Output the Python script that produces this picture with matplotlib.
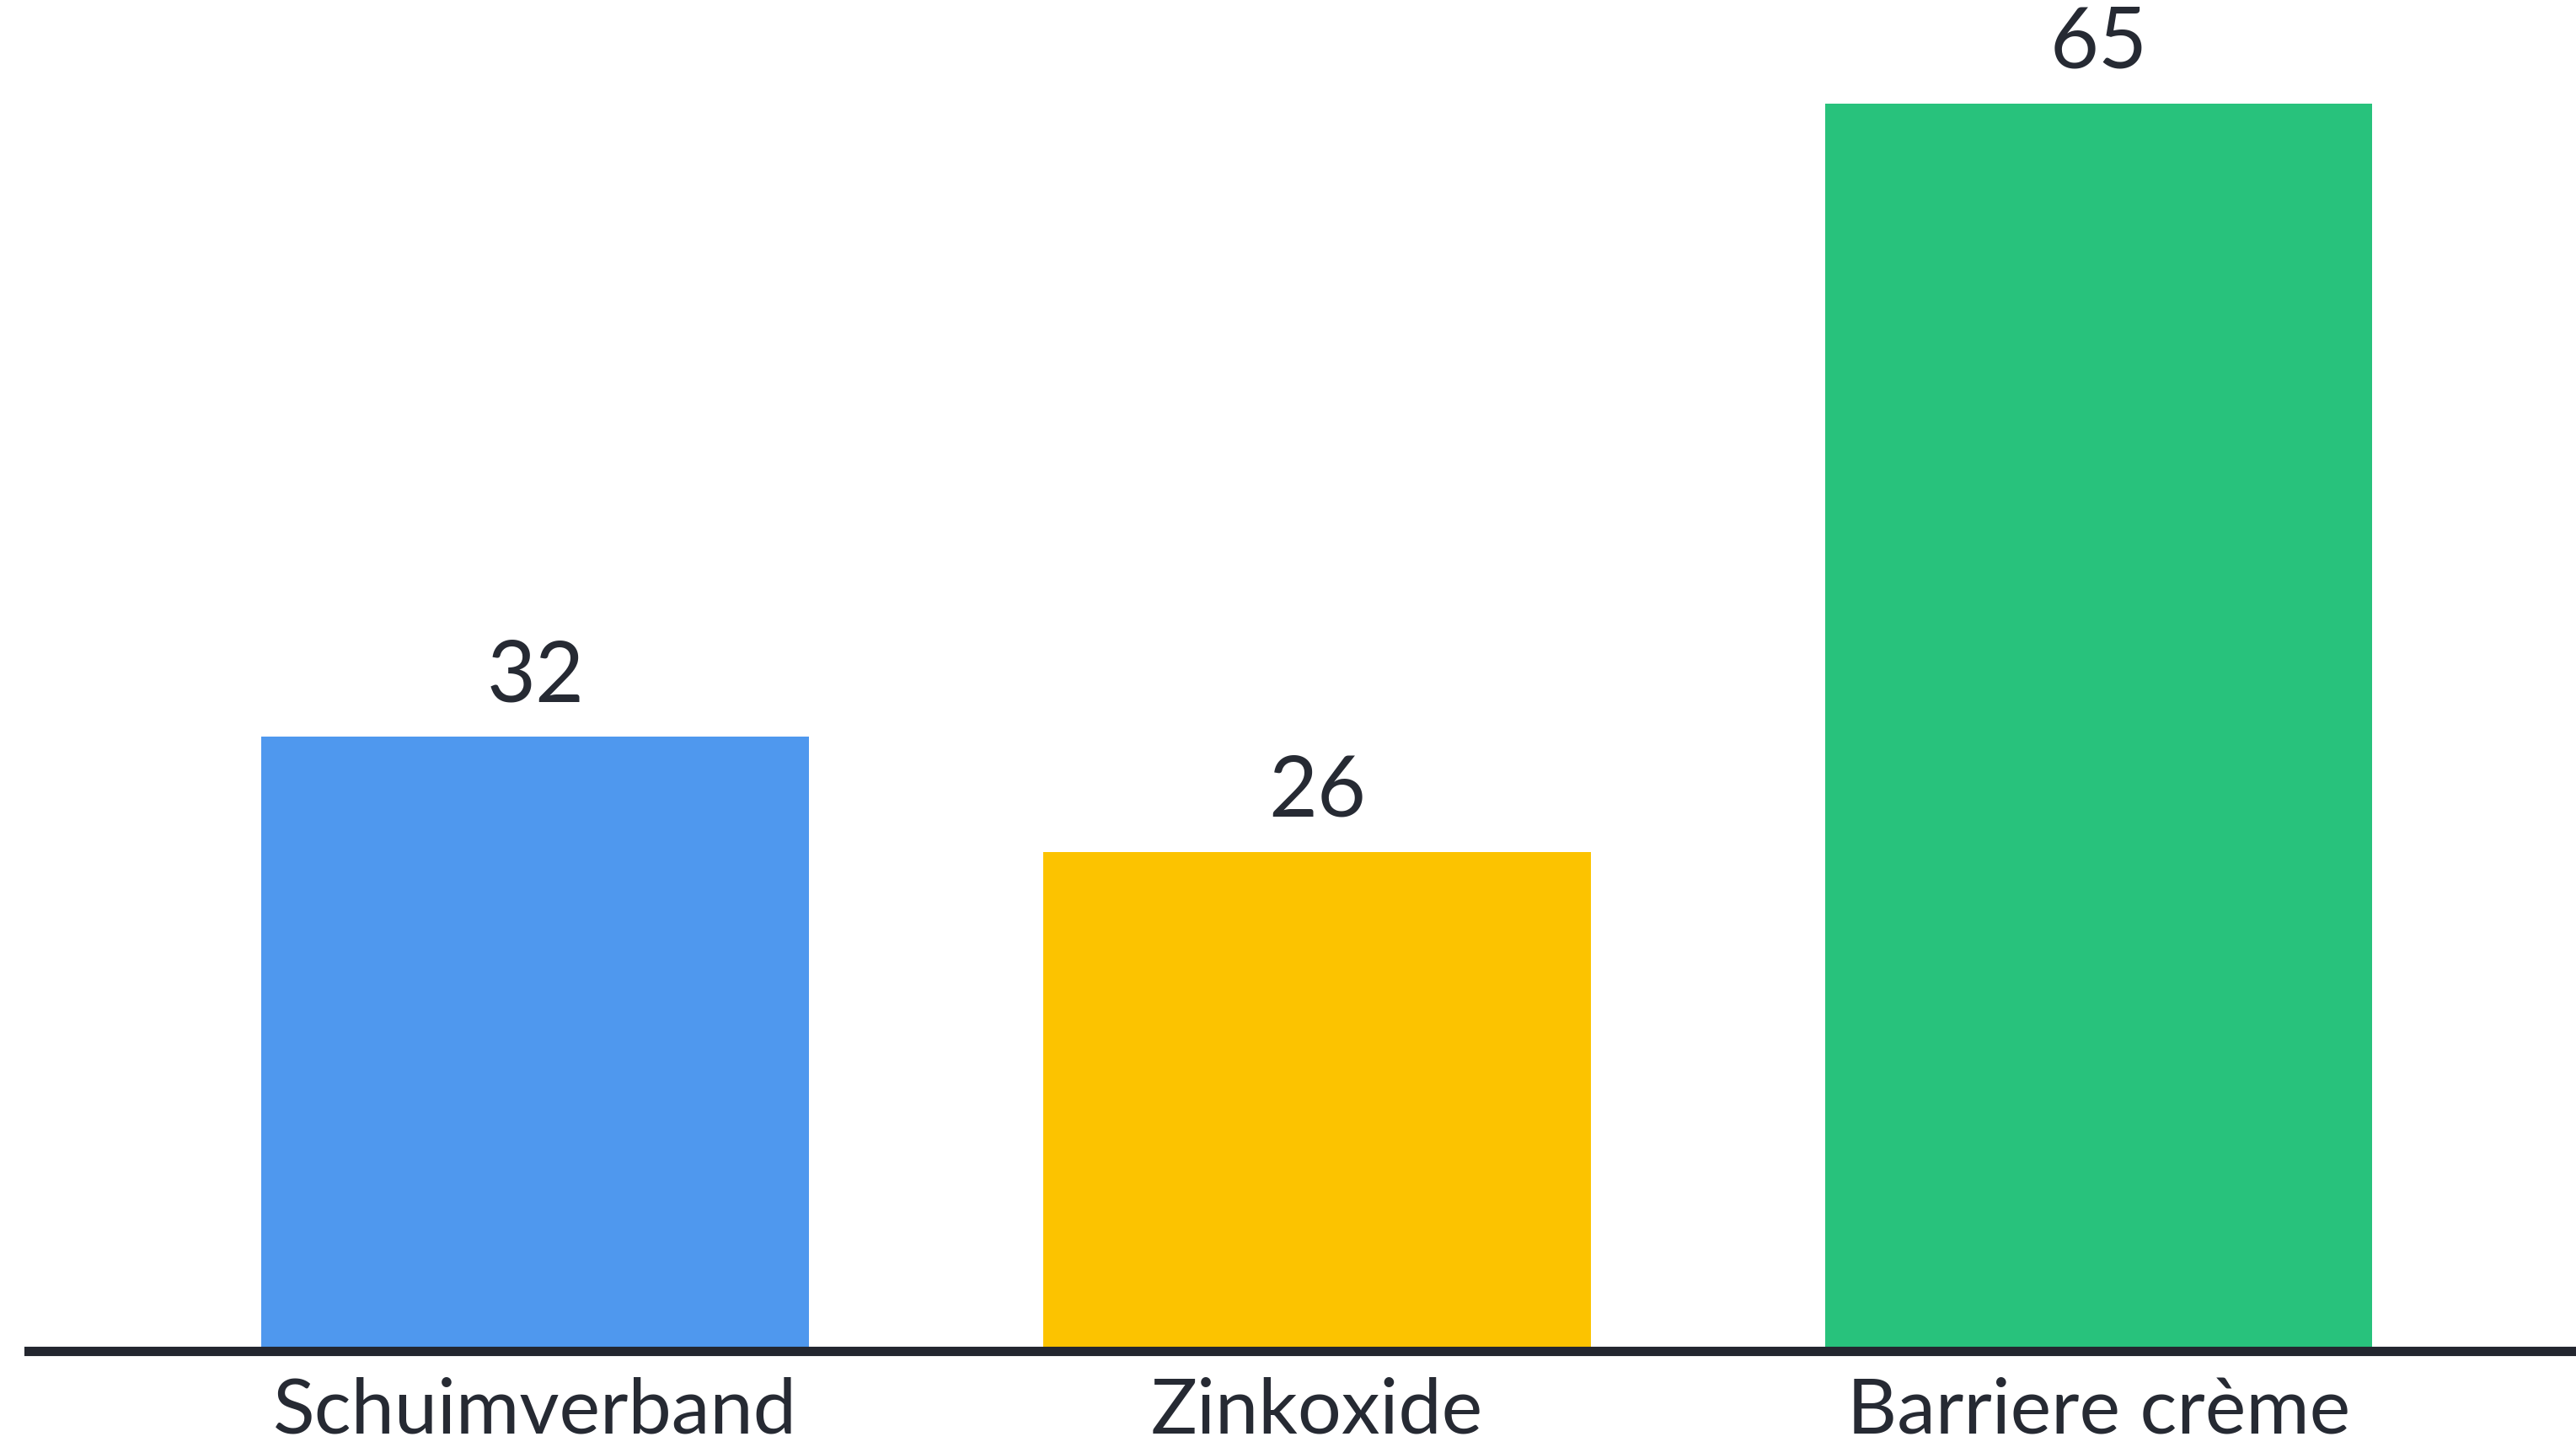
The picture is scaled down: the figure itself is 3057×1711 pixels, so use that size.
import matplotlib
matplotlib.use("Agg")
import matplotlib.pyplot as plt

categories = ["Schuimverband", "Zinkoxide", "Barriere crème"]
values = [32, 26, 65]
colors = ["#4F98EE", "#FCC300", "#28C27C"]

text_color = "#262A33"
plt.rcParams['font.family'] = ['Lato', 'DejaVu Sans']

fig = plt.figure(figsize=(30.57, 17.11), dpi=100)
left = 34 / 3057
ax = fig.add_axes([left, (1711 - 1603) / 1711, 1 - left, 1603 / 1711])

x = list(range(len(categories)))
ax.bar(x, values, width=0.7, color=colors, zorder=2)
ax.set_xlim(-0.648, 2.6105)
ax.set_ylim(0, 70.4)

for xi, v in zip(x, values):
    ax.annotate(str(v), (xi, v), xytext=(0, 18), textcoords="offset points",
                ha="center", va="bottom", fontsize=72, color=text_color,
                annotation_clip=False)

for s in ["left", "right", "top"]:
    ax.spines[s].set_visible(False)
ax.spines["bottom"].set_color("#23262F")
ax.spines["bottom"].set_linewidth(8)
ax.spines["bottom"].set_zorder(3)
ax.set_yticks([])
ax.set_xticks(x)
ax.set_xticklabels(categories, fontsize=66, color=text_color)
ax.tick_params(axis="x", length=0, pad=22)

fig.savefig("out.png", dpi=100)
